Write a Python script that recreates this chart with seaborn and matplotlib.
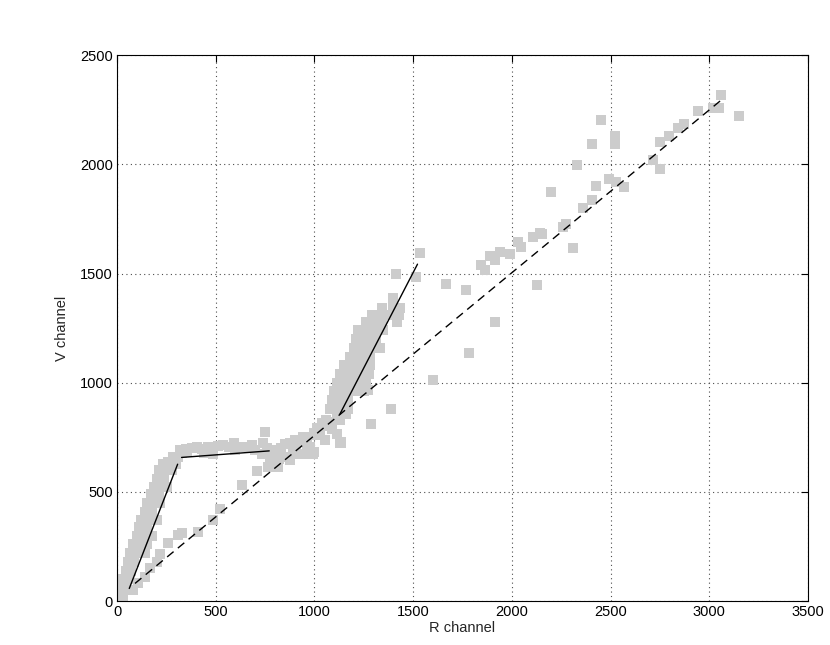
import numpy as np
import pandas as pd
import matplotlib
matplotlib.use("Agg")
import matplotlib.pyplot as plt
import seaborn as sns

# --- dati ---
# ramo ripido in basso a sinistra
r_left = [10, 30, 20, 45, 30, 55, 45, 70, 55, 85, 66, 100, 140, 80, 115, 150,
          100, 130, 175, 110, 150, 120, 160, 200, 140, 175, 150, 190, 220,
          170, 215, 185, 225, 255, 200, 240, 215, 255, 280, 235, 275, 300,
          285, 310, 40, 57, 91, 125, 192, 251, 260]
v_left = [20, 20, 60, 60, 100, 100, 140, 140, 180, 180, 220, 220, 220, 260,
          260, 260, 300, 300, 300, 340, 340, 370, 370, 370, 410, 410, 450,
          450, 450, 490, 490, 523, 523, 523, 560, 560, 600, 600, 600, 630,
          630, 630, 660, 660, 82, 142, 249, 325, 500, 600, 638]

# ramo basso lungo la tratteggiata
r_low = [83, 108, 142, 167, 201, 218, 260, 310, 327, 411, 488, 521, 631, 707]
v_low = [50, 81, 111, 150, 180, 218, 264, 302, 310, 317, 371, 424, 531, 597]

# plateau
r_flat = [320, 350, 380, 403, 430, 460, 488, 510, 539, 565, 590, 620, 648,
          682, 700, 740, 749, 732, 760, 774, 766, 816, 488, 600, 440, 330, 352]
v_flat = [690, 695, 700, 707, 695, 705, 699, 710, 714, 705, 722, 705, 707,
          714, 690, 722, 775, 676, 700, 661, 615, 615, 676, 690, 680, 680, 684]

# tratto crescente centrale
r_mid = [790, 800, 807, 830, 842, 859, 875, 875, 890, 909, 909, 930, 943, 943,
         960, 960, 977, 993, 1011, 1011, 1030, 1053, 1061, 1061, 1078, 1090,
         1112, 1112, 1128, 1132, 1145, 1162, 820, 850, 900, 1000, 1040, 998,
         1128, 1053]
v_mid = [640, 680, 692, 700, 661, 661, 722, 646, 690, 707, 676, 730, 753, 676,
         753, 720, 707, 676, 791, 760, 780, 737, 829, 800, 821, 790, 852, 767,
         829, 725, 860, 859, 650, 720, 740, 770, 815, 681, 725, 737]

# colonna ripida
r_col = [1080, 1130, 1170, 1090, 1130, 1170, 1100, 1150, 1200, 1250,
         1115, 1160, 1210, 1260, 1130, 1180, 1230, 1275, 1150, 1200, 1250,
         1280, 1180, 1230, 1280, 1200, 1250, 1300, 1330, 1210, 1260, 1310,
         1220, 1270, 1320, 1345, 1260, 1300, 1340, 1420, 1290, 1340, 1390,
         1430, 1340, 1400, 1435,
         1272, 1390, 1284, 1134, 1398, 1415, 1513, 1533, 1424]
v_col = [880, 880, 880, 920, 920, 920, 960, 960, 960, 960,
         1000, 1000, 1000, 1000, 1040, 1040, 1040, 1040, 1080, 1080, 1080,
         1080, 1120, 1120, 1120, 1160, 1160, 1160, 1160, 1200, 1200, 1200,
         1240, 1240, 1240, 1240, 1280, 1280, 1280, 1280, 1310, 1310, 1310,
         1310, 1340, 1340, 1340,
         966, 881, 810, 727, 1386, 1497, 1482, 1595, 1317]

# punti sparsi a destra
r_right = [1598, 1665, 1770, 1916, 1781, 2127, 1845, 1862, 1888, 1913, 1938,
           1989, 2031, 2048, 2107, 2154, 2144, 2259, 2276, 2309, 2197, 2360,
           2407, 2424, 2330, 2404, 2453, 2491, 2525, 2566, 2520, 2524, 2714,
           2748, 2748, 2795, 2841, 2874, 2945, 3018, 3047, 3057, 3148]
v_right = [1012, 1450, 1424, 1276, 1134, 1447, 1538, 1516, 1580, 1561, 1599,
           1589, 1645, 1623, 1669, 1682, 1686, 1712, 1728, 1619, 1874, 1798,
           1838, 1901, 1996, 2095, 2205, 1932, 1918, 1897, 2132, 2095, 2022,
           1978, 2102, 2130, 2165, 2186, 2245, 2259, 2259, 2316, 2222]

# segmenti di fit (continui) e retta tratteggiata
fit_r = [62, 307, np.nan, 327, 771, np.nan, 1128, 1522]
fit_v = [58, 627, np.nan, 658, 688, np.nan, 855, 1543]
dash_r = [91, 3060]
dash_v = [81, 2294]

df = pd.DataFrame({
    'R': r_left + r_low + r_flat + r_mid + r_col + r_right,
    'V': v_left + v_low + v_flat + v_mid + v_col + v_right,
})

# --- stile ---
sns.set_style("white")
plt.rcParams['font.family'] = ['Liberation Sans', 'DejaVu Sans']
plt.rcParams['font.size'] = 10.5

fig = plt.figure(figsize=(8.3, 6.45), dpi=100)
ax = fig.add_axes([0.141, 0.068, 0.8325, 0.8465])

sns.scatterplot(data=df, x='R', y='V', marker='s', s=44, color='#cccccc',
                linewidth=0, ax=ax, zorder=2)

ax.plot(fit_r, fit_v, color='black', linewidth=1.0, zorder=3)
ax.plot(dash_r, dash_v, color='black', linewidth=1.0, linestyle=(0, (6, 4)),
        zorder=3)

ax.set_xlim(0, 3500)
ax.set_ylim(0, 2500)
ax.set_xticks(np.arange(0, 3501, 500))
ax.set_yticks(np.arange(0, 2501, 500))
ax.grid(True, linestyle=(0, (1, 3)), color='0.3', linewidth=0.8)
ax.set_axisbelow(True)
ax.tick_params(direction='in', top=True, right=True, length=5, width=0.8,
               labelsize=10.5, colors='black', pad=3)
for sp in ax.spines.values():
    sp.set_color('black')
    sp.set_linewidth(0.8)

ax.set_xlabel("R channel", fontsize=10.5, labelpad=1)
ax.set_ylabel("V channel", fontsize=10.5, labelpad=8)

fig.savefig("out.png", dpi=100)
plt.close(fig)
